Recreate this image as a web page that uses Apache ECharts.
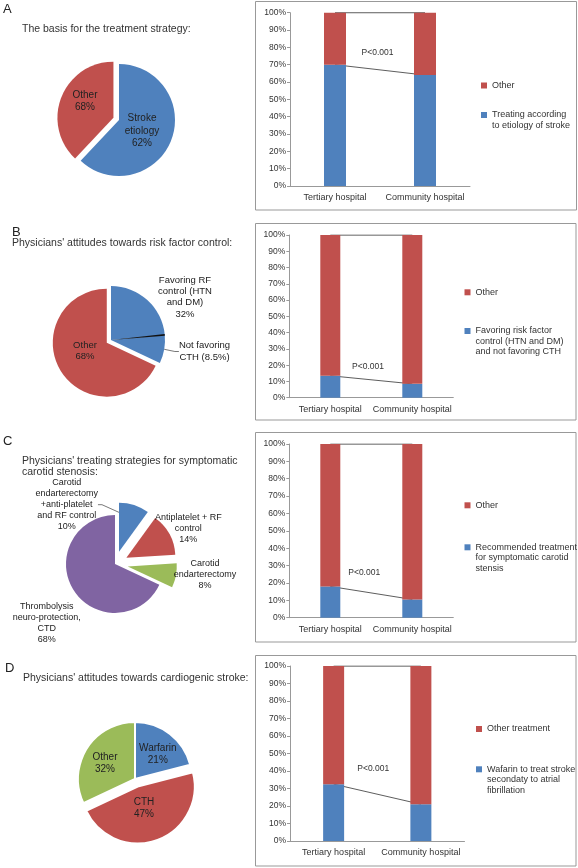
<!DOCTYPE html>
<html><head><meta charset="utf-8">
<script src="https://cdn.jsdelivr.net/npm/echarts@6/dist/echarts.min.js"></script>
<style>html,body{margin:0;padding:0;background:#fff}#c{width:578px;height:868px}</style>
</head><body><div id="c"></div>
<script>
// ================= DATA =================
const hospitals = ['Tertiary hospital', 'Community hospital'];
const pText = 'P<0.001';
const panelLetters = ['A', 'B', 'C', 'D'];

// Panel A
const titleA = 'The basis for the treatment strategy:';
const pieANames = ['Stroke etiology', 'Other'];
const pieAValues = [62, 38];
const pieALabels = ['Stroke\netiology\n62%', 'Other\n68%'];
const barABlueName = 'Treating according\nto etiology of stroke';
const barARedName = 'Other';
const barABlue = [70, 64];
const barARed = [30, 36];

// Panel B
const titleB = "Physicians' attitudes towards risk factor control:";
const pieBNames = ['Favoring RF control (HTN and DM)', 'Not favoring CTH', 'Other'];
const pieBValues = [23.5, 8.5, 68];
const pieBLabels = ['Favoring RF\ncontrol (HTN\nand DM)\n32%', 'Not favoring\nCTH (8.5%)', 'Other\n68%'];
const barBBlueName = 'Favoring risk factor\ncontrol (HTN and DM)\nand not favoring CTH';
const barBRedName = 'Other';
const barBBlue = [13.5, 8.5];
const barBRed = [86.5, 91.5];

// Panel C
const titleC = "Physicians' treating strategies for symptomatic\ncarotid stenosis:";
const pieCNames = ['Carotid endarterectomy +anti-platelet and RF control', 'Antiplatelet + RF control', 'Carotid endarterectomy', 'Thrombolysis neuro-protection, CTD'];
const pieCValues = [10, 14, 8, 68];
const pieCLabels = ['Carotid\nendarterectomy\n+anti-platelet\nand RF control\n10%', 'Antiplatelet + RF\ncontrol\n14%', 'Carotid\nendarterectomy\n8%', 'Thrombolysis\nneuro-protection,\nCTD\n68%'];
const barCBlueName = 'Recommended treatment\nfor symptomatic carotid\nstensis';
const barCRedName = 'Other';
const barCBlue = [18, 10.5];
const barCRed = [82, 89.5];

// Panel D
const titleD = "Physicians' attitudes towards cardiogenic stroke:";
const pieDNames = ['Warfarin', 'CTH', 'Other'];
const pieDValues = [21, 47, 32];
const pieDLabels = ['Warfarin\n21%', 'CTH\n47%', 'Other\n32%'];
const barDBlueName = 'Wafarin to treat stroke\nsecondaty to atrial\nfibrillation';
const barDRedName = 'Other treatment';
const barDBlue = [32.5, 21];
const barDRed = [67.5, 79];

// ================= STYLE / LAYOUT =================
const FONT = '"Liberation Sans", Arial, Helvetica, sans-serif';
const BLUE = '#4F81BD', RED = '#C0504D', GREEN = '#9BBB59', PURPLE = '#8064A2';
const TXT = '#333';
const LEG_LH = 10.5;
const CLEAR = 'rgba(0,0,0,0)';

const panels = [
  { letter: [3, 2], title: titleA, titleLeft: 22, titleTop: 23,
    frame: [255.5, 1.5, 321, 208.5],
    grid: { left: 290, top: 12.7, width: 180, height: 173.3 }, barWidth: 22,
    blue: barABlue, red: barARed, blueName: barABlueName, redName: barARedName,
    legendLeft: 481, redCy: 85.5, blueCy: 115, blueLines: 2, p: [377.5, 52.7],
    pie: { names: pieANames, values: pieAValues, labels: pieALabels, colors: [BLUE, RED],
      center: [119, 120], r: 56, offset: 6, border: 0, fs: 10, lh: 12.3,
      selected: [1], lines: [], pos: [[142, 131], [85, 101]] } },
  { letter: [12, 225.5], title: titleB, titleLeft: 12, titleTop: 237.5,
    frame: [255.5, 223.5, 320.5, 196.5],
    grid: { left: 289.3, top: 235, width: 164, height: 162.7 }, barWidth: 20,
    blue: barBBlue, red: barBRed, blueName: barBBlueName, redName: barBRedName,
    legendLeft: 464.5, redCy: 292.3, blueCy: 331, blueLines: 3, p: [368, 366.7],
    pie: { names: pieBNames, values: pieBValues, labels: pieBLabels, colors: [BLUE, BLUE, RED],
      center: [111, 340], r: 54, offset: 5, border: 0, fs: 9.5, lh: 11.3,
      selected: [2], lines: [1], pos: [[185, 297], [204.5, 351.5], [85, 351]] } },
  { letter: [3, 434.5], title: titleC, titleLeft: 22, titleTop: 454.9,
    frame: [255.5, 432.5, 320.5, 209.5],
    grid: { left: 289.3, top: 444, width: 164, height: 173.7 }, barWidth: 20,
    blue: barCBlue, red: barCRed, blueName: barCBlueName, redName: barCRedName,
    legendLeft: 464.5, redCy: 505.3, blueCy: 547.3, blueLines: 3, p: [364.2, 572.7],
    pie: { names: pieCNames, values: pieCValues, labels: pieCLabels, colors: [BLUE, RED, GREEN, PURPLE],
      center: [115, 564], r: 49, offset: 13, border: 0, fs: 9, lh: 11,
      selected: [0, 1, 2], lines: [0, 1], pos: [[66.7, 504.7], [188.3, 528.7], [205, 574.7], [46.7, 623.5]] } },
  { letter: [5, 661], title: titleD, titleLeft: 23, titleTop: 672.3,
    frame: [255.5, 655.5, 320.5, 210.5],
    grid: { left: 290, top: 666, width: 174.5, height: 175 }, barWidth: 21,
    blue: barDBlue, red: barDRed, blueName: barDBlueName, redName: barDRedName,
    legendLeft: 476, redCy: 729, blueCy: 769.3, blueLines: 3, p: [373.2, 768.3],
    pie: { names: pieDNames, values: pieDValues, labels: pieDLabels, colors: [BLUE, RED, GREEN],
      center: [135, 779], r: 57, offset: 8, border: 2, fs: 10, lh: 12,
      selected: [1], lines: [], pos: [[157.8, 754], [144, 808.3], [105, 763.3]] } }
];

// ================= BUILD =================
const titles = [], grids = [], xAxes = [], yAxes = [], legends = [], series = [], gfx = [];

function legendFor(name, left, cy, nLines) {
  return { orient: 'vertical', left: left, top: cy - (2 * nLines - 1) * LEG_LH / 2, padding: 0,
    itemWidth: 6, itemHeight: 6, icon: 'rect', selectedMode: false, data: [name],
    // leading blank lines keep the marker level with the first text line
    formatter: (n) => '\n'.repeat(nLines - 1) + n,
    textStyle: { fontSize: 9, lineHeight: LEG_LH, color: TXT, fontFamily: FONT } };
}

panels.forEach((P, k) => {
  titles.push({ text: panelLetters[k], left: P.letter[0], top: P.letter[1], padding: 0,
    textStyle: { fontSize: 13, fontWeight: 'normal', color: '#222', fontFamily: FONT, lineHeight: 14 } });
  titles.push({ text: P.title, left: P.titleLeft, top: P.titleTop, padding: 0,
    textStyle: { fontSize: 10.5, fontWeight: 'normal', color: TXT, fontFamily: FONT, lineHeight: 11.6 } });

  grids.push(Object.assign({ containLabel: false, outerBoundsMode: 'none' }, P.grid));
  xAxes.push({ type: 'category', gridIndex: k, data: hospitals,
    axisLine: { lineStyle: { color: '#999', width: 1 } }, axisTick: { show: false },
    axisLabel: { fontSize: 9, color: TXT, fontFamily: FONT, margin: 7, interval: 0 } });
  yAxes.push({ type: 'value', gridIndex: k, min: 0, max: 100, interval: 10,
    axisLine: { show: true, lineStyle: { color: '#999', width: 1 } },
    axisTick: { show: true, length: 3, lineStyle: { color: '#999' } },
    splitLine: { show: false },
    axisLabel: { formatter: '{value}%', fontSize: 8.5, color: TXT, fontFamily: FONT, margin: 4 } });

  // stacked bars
  series.push({ type: 'bar', name: P.blueName, xAxisIndex: k, yAxisIndex: k, stack: 'tot' + k,
    barWidth: P.barWidth, data: P.blue, itemStyle: { color: BLUE }, z: 3, silent: true });
  series.push({ type: 'bar', name: P.redName, xAxisIndex: k, yAxisIndex: k, stack: 'tot' + k,
    barWidth: P.barWidth, data: P.red, itemStyle: { color: RED }, z: 3, silent: true });
  // series lines joining segment tops (drawn beneath the bars)
  series.push({ type: 'line', xAxisIndex: k, yAxisIndex: k, data: P.blue, symbol: 'none', z: 1, silent: true,
    lineStyle: { color: '#333', width: 0.8 } });
  series.push({ type: 'line', xAxisIndex: k, yAxisIndex: k, data: P.blue.map((v, i) => v + P.red[i]),
    symbol: 'none', z: 1, silent: true, lineStyle: { color: '#333', width: 1 } });

  legends.push(legendFor(P.redName, P.legendLeft, P.redCy, 1));
  legends.push(legendFor(P.blueName, P.legendLeft, P.blueCy, P.blueLines));

  // pie: visible slices (exploded ones selected)
  const C = P.pie;
  series.push({ type: 'pie', center: C.center, radius: C.r, startAngle: 90, clockwise: true,
    selectedMode: 'multiple', selectedOffset: C.offset, silent: true, emphasis: { disabled: true },
    itemStyle: { borderColor: '#fff', borderWidth: C.border },
    label: { show: false }, labelLine: { show: false },
    data: C.names.map((n, i) => ({ name: n, value: C.values[i], selected: C.selected.includes(i),
      itemStyle: { color: C.colors[i] } })) });
  // pie: label layer (same data, transparent slices)
  series.push({ type: 'pie', center: C.center, radius: C.r, startAngle: 90, clockwise: true,
    avoidLabelOverlap: false, silent: true, emphasis: { disabled: true },
    itemStyle: { color: CLEAR, borderWidth: 0 },
    label: { show: true, position: 'outside', color: '#222', fontSize: C.fs, lineHeight: C.lh,
      fontFamily: FONT, align: 'center' },
    labelLine: { show: false },
    data: C.names.map((n, i) => ({ name: n, value: C.values[i],
      itemStyle: { color: CLEAR }, label: { formatter: C.labels[i] },
      labelLine: { show: C.lines.includes(i), length: 4, length2: 4, lineStyle: { color: '#555', width: 0.8 } } })),
    labelLayout: (prm) => ({ x: C.pos[prm.dataIndex][0], y: C.pos[prm.dataIndex][1],
      align: 'center', verticalAlign: 'middle' }) });

  gfx.push({ type: 'rect', shape: { x: P.frame[0], y: P.frame[1], width: P.frame[2], height: P.frame[3] },
    style: { fill: 'none', stroke: '#999', lineWidth: 1 }, silent: true });
  gfx.push({ type: 'text', x: P.p[0], y: P.p[1], silent: true,
    style: { text: pText, fill: TXT, font: '8.5px ' + FONT, align: 'center', verticalAlign: 'middle',
      textAlign: 'center', textVerticalAlign: 'middle' } });
});

// divider line inside the blue part of pie B (boundary between the two blue sub-slices)
series.push({ type: 'pie', center: panels[1].pie.center, radius: panels[1].pie.r, startAngle: 90, silent: true,
  label: { show: false }, labelLine: { show: false }, emphasis: { disabled: true }, z: 5,
  data: [
    { value: pieBValues[0] - 0.25, itemStyle: { color: CLEAR } },
    { value: 0.5, itemStyle: { color: '#111' } },
    { value: 100 - pieBValues[0] - 0.25, itemStyle: { color: CLEAR } }
  ] });

const chart = echarts.init(document.getElementById('c'), null, { renderer: 'canvas' });
chart.setOption({
  animation: false,
  backgroundColor: '#fff',
  textStyle: { fontFamily: FONT },
  title: titles, grid: grids, xAxis: xAxes, yAxis: yAxes, legend: legends,
  graphic: { elements: gfx },
  series: series
});
</script></body></html>
